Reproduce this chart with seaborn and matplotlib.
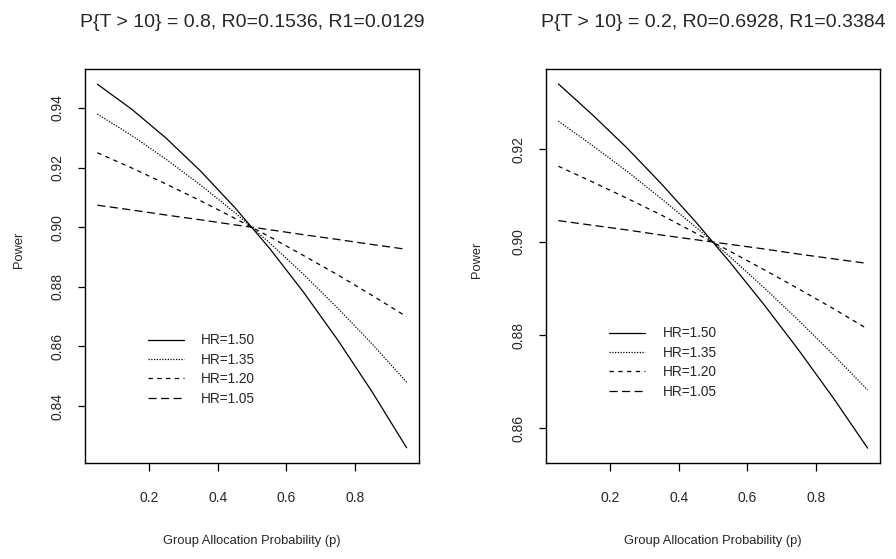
import numpy as np
import pandas as pd
import seaborn as sns
import matplotlib.pyplot as plt

sns.set_style("white")
plt.rcParams['font.family'] = ['Liberation Sans', 'DejaVu Sans']

# group allocation probability
p = [0.05, 0.15, 0.25, 0.35, 0.45, 0.55, 0.65, 0.75, 0.85, 0.95]
hr_labels = ["HR=1.50", "HR=1.35", "HR=1.20", "HR=1.05"]

# P{T > 10} = 0.8
left_150 = [0.9480, 0.9396, 0.9299, 0.9189, 0.9066, 0.8931, 0.8782, 0.8621, 0.8447, 0.8260]
left_135 = [0.9380, 0.9308, 0.9228, 0.9142, 0.9049, 0.8949, 0.8842, 0.8728, 0.8608, 0.8480]
left_120 = [0.9250, 0.9199, 0.9145, 0.9089, 0.9030, 0.8969, 0.8905, 0.8840, 0.8771, 0.8700]
left_105 = [0.9074, 0.9058, 0.9041, 0.9025, 0.9008, 0.8992, 0.8975, 0.8959, 0.8942, 0.8926]

# P{T > 10} = 0.2
right_150 = [0.9340, 0.9273, 0.9202, 0.9125, 0.9043, 0.8956, 0.8864, 0.8767, 0.8665, 0.8557]
right_135 = [0.9260, 0.9207, 0.9152, 0.9093, 0.9032, 0.8968, 0.8901, 0.8831, 0.8758, 0.8682]
right_120 = [0.9163, 0.9129, 0.9094, 0.9058, 0.9019, 0.8980, 0.8940, 0.8899, 0.8857, 0.8813]
right_105 = [0.9046, 0.9036, 0.9026, 0.9015, 0.9005, 0.8995, 0.8985, 0.8974, 0.8964, 0.8954]

titles = ["P{T > 10} = 0.8, R0=0.1536, R1=0.0129",
          "P{T > 10} = 0.2, R0=0.6928, R1=0.3384"]
yticks = [[0.84, 0.86, 0.88, 0.90, 0.92, 0.94], [0.86, 0.88, 0.90, 0.92]]
ylims = [(0.8209, 0.9531), (0.8525, 0.9372)]

def to_long(series):
    frames = []
    for lab, vals in zip(hr_labels, series):
        frames.append(pd.DataFrame({"p": p, "power": vals, "HR": lab}))
    return pd.concat(frames, ignore_index=True)

data = [to_long([left_150, left_135, left_120, left_105]),
        to_long([right_150, right_135, right_120, right_105])]

dashes = {"HR=1.50": "", "HR=1.35": (1, 1.2), "HR=1.20": (3.5, 3.5), "HR=1.05": (6.5, 3.5)}
palette = {h: "black" for h in hr_labels}

fig = plt.figure(figsize=(8.96, 5.59), dpi=100)
W, H = 896, 559
lefts = [85, 546]
leg_pos = [(0.189, 0.329), (0.19, 0.347)]
ylab_pos = [(-0.18, 0.54), (-0.19, 0.515)]

for i in range(2):
    ax = fig.add_axes([lefts[i] / W, (H - 463) / H, 334 / W, 394 / H])
    sns.lineplot(data=data[i], x="p", y="power", hue="HR", style="HR",
                 palette=palette, dashes=dashes, linewidth=0.9, ax=ax)
    ax.set_xlim(0.014, 0.986)
    ax.set_ylim(*ylims[i])
    ax.set_xticks([0.2, 0.4, 0.6, 0.8])
    ax.set_xticklabels(["0.2", "0.4", "0.6", "0.8"])
    ax.set_yticks(yticks[i])
    ax.set_yticklabels([f"{v:.2f}" for v in yticks[i]], rotation=90, va="center")
    ax.tick_params(axis="x", direction="out", length=6, width=0.9, pad=14,
                   labelsize=10, bottom=True, color="black")
    ax.tick_params(axis="y", direction="out", length=5, width=0.9, pad=10,
                   labelsize=10, left=True, color="black")
    for s in ax.spines.values():
        s.set_color("black")
        s.set_linewidth(1.0)
    ax.set_xlabel("Group Allocation Probability (p)", fontsize=9.3)
    ax.xaxis.set_label_coords(0.5, -0.183)
    ax.set_ylabel("Power", fontsize=9.3)
    ax.yaxis.set_label_coords(*ylab_pos[i])
    ax.set_title(titles[i], fontsize=14, pad=30)
    ax.legend(loc="upper left", bbox_to_anchor=leg_pos[i], frameon=False,
              fontsize=9.8, handlelength=2.6, handletextpad=1.3,
              labelspacing=0.4, borderpad=0, borderaxespad=0)

fig.savefig("out.png", dpi=100)
